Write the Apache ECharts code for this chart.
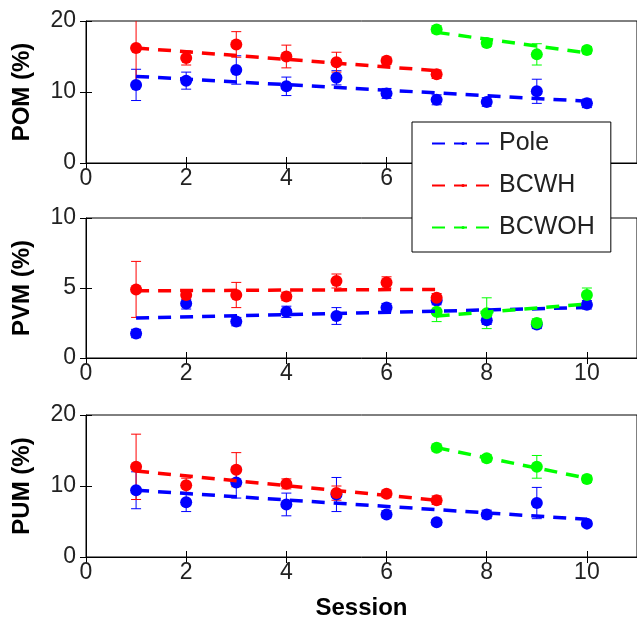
<!DOCTYPE html>
<html>
<head>
<meta charset="utf-8">
<script src="https://cdn.jsdelivr.net/npm/echarts@6/dist/echarts.min.js"></script>
<style>
  html, body { margin: 0; padding: 0; background: #fff; }
  #chart { width: 637px; height: 621px; }
</style>
</head>
<body>
<div id="chart"></div>
<script>
// sessions
var sessions = [1, 2, 3, 4, 5, 6, 7, 8, 9, 10];
var bcwhSessions = [1, 2, 3, 4, 5, 6, 7];
var bcwohSessions = [7, 8, 9, 10];

// POM (%)
var pomPole = [11.0, 11.6, 13.1, 10.8, 12.0, 9.8, 8.9, 8.6, 10.1, 8.4];
var pomPoleErr = [2.2, 1.2, 2.0, 1.3, 1.0, 0.7, 0.7, 0.6, 1.7, 0.6];
var pomBcwh = [16.2, 14.8, 16.7, 15.0, 14.2, 14.4, 12.5];
var pomBcwhErr = [5.0, 1.0, 1.8, 1.6, 1.4, 0.5, 0.6];
var pomBcwoh = [18.8, 16.9, 15.3, 15.9];
var pomBcwohErr = [0.5, 0.5, 1.5, 0.5];
var pomTrend = { pole: [12.2, 8.7], bcwh: [16.2, 13.0], bcwoh: [18.4, 15.5] };

// PVM (%)
var pvmPole = [1.75, 3.9, 2.6, 3.3, 3.0, 3.6, 4.1, 2.7, 2.4, 3.8];
var pvmPoleErr = [0.3, 0.4, 0.3, 0.4, 0.6, 0.3, 0.3, 0.3, 0.3, 0.3];
var pvmBcwh = [4.9, 4.5, 4.5, 4.4, 5.5, 5.4, 4.3];
var pvmBcwhErr = [2.0, 0.3, 0.9, 0.3, 0.5, 0.4, 0.3];
var pvmBcwoh = [3.3, 3.2, 2.5, 4.5];
var pvmBcwohErr = [0.7, 1.1, 0.3, 0.5];
var pvmTrend = { pole: [2.85, 3.6], bcwh: [4.8, 4.9], bcwoh: [3.0, 3.85] };

// PUM (%)
var pumPole = [9.4, 7.7, 10.5, 7.4, 8.8, 6.0, 4.9, 6.0, 7.6, 4.7];
var pumPoleErr = [2.6, 1.3, 2.2, 1.6, 2.4, 0.5, 0.4, 0.6, 2.2, 0.4];
var pumBcwh = [12.7, 10.1, 12.3, 10.3, 9.0, 8.9, 8.0];
var pumBcwhErr = [4.6, 1.0, 2.4, 0.7, 1.0, 0.5, 0.6];
var pumBcwoh = [15.4, 13.9, 12.7, 11.0];
var pumBcwohErr = [0.5, 0.5, 1.6, 0.5];
var pumTrend = { pole: [9.4, 5.3], bcwh: [12.1, 8.0], bcwoh: [15.4, 11.1] };

var panelNames = ["POM (%)", "PVM (%)", "PUM (%)"];
var yMax = [20, 10, 20];
var yStep = [10, 5, 10];

var colors = { pole: "#0000FF", bcwh: "#FF0000", bcwoh: "#00FF00" };
var FONT = "Liberation Sans";

var chart = echarts.init(document.getElementById("chart"));

// error bar: vertical line with small caps
function errRender(params, api) {
  var x = api.value(0);
  var lo = api.coord([x, api.value(1)]);
  var hi = api.coord([x, api.value(2)]);
  var w = 5;
  var st = { stroke: api.visual("color"), lineWidth: 1 };
  return {
    type: "group",
    children: [
      { type: "line", shape: { x1: lo[0], y1: lo[1], x2: hi[0], y2: hi[1] }, style: st },
      { type: "line", shape: { x1: lo[0] - w, y1: lo[1], x2: lo[0] + w, y2: lo[1] }, style: st },
      { type: "line", shape: { x1: hi[0] - w, y1: hi[1], x2: hi[0] + w, y2: hi[1] }, style: st },
    ],
  };
}

function groupSeries(idx, name, color, xs, means, errs, trend) {
  var errData = xs.map(function (x, i) {
    return [x, means[i] - errs[i], means[i] + errs[i]];
  });
  var pts = xs.map(function (x, i) { return [x, means[i]]; });
  return [
    {
      name: name + " err", type: "custom", xAxisIndex: idx, yAxisIndex: idx,
      renderItem: errRender, data: errData, itemStyle: { color: color },
      clip: true, silent: true, z: 2,
    },
    {
      name: name + " pts", type: "scatter", xAxisIndex: idx, yAxisIndex: idx,
      data: pts, symbol: "circle", symbolSize: 12,
      itemStyle: { color: color, opacity: 1 }, silent: true, z: 3,
    },
    {
      name: name, type: "line", xAxisIndex: idx, yAxisIndex: idx,
      data: [[xs[0], trend[0]], [xs[xs.length - 1], trend[1]]],
      symbol: "none", silent: true, z: 4,
      lineStyle: { color: color, width: 3.5, type: [13, 9] },
      itemStyle: { color: color },
    },
  ];
}

var gridTops = [21, 218, 415];
var gridHeights = [142, 140, 142];

var grids = [], xAxes = [], yAxes = [], series = [];
var panels = [
  [pomPole, pomPoleErr, pomBcwh, pomBcwhErr, pomBcwoh, pomBcwohErr, pomTrend],
  [pvmPole, pvmPoleErr, pvmBcwh, pvmBcwhErr, pvmBcwoh, pvmBcwohErr, pvmTrend],
  [pumPole, pumPoleErr, pumBcwh, pumBcwhErr, pumBcwoh, pumBcwohErr, pumTrend],
];

for (var i = 0; i < 3; i++) {
  grids.push({
    left: 86, width: 556, top: gridTops[i], height: gridHeights[i],
    show: true, borderColor: "#000", borderWidth: 1, backgroundColor: "#fff",
  });
}

var labelStyle = { color: "#222", fontFamily: FONT, fontSize: 23 };

// bottom x axes
for (var i = 0; i < 3; i++) {
  xAxes.push({
    type: "value", gridIndex: i, min: 0, max: 11, interval: 2, position: "bottom",
    axisLine: { show: true, lineStyle: { color: "#000", width: 1 } },
    axisTick: { show: true, inside: true, length: 6, lineStyle: { color: "#000" } },
    axisLabel: Object.assign({ margin: 4, showMaxLabel: false }, labelStyle),
    splitLine: { show: false },
    name: i === 2 ? "Session" : "",
    nameLocation: "middle", nameGap: 39,
    nameTextStyle: { color: "#000", fontFamily: FONT, fontSize: 24, fontWeight: "bold" },
  });
}
// top x axes (mirrored ticks)
for (var i = 0; i < 3; i++) {
  xAxes.push({
    type: "value", gridIndex: i, min: 0, max: 11, interval: 2, position: "top",
    axisLine: { show: false },
    axisTick: { show: true, inside: true, length: 6, lineStyle: { color: "#000" } },
    axisLabel: { show: false }, splitLine: { show: false },
  });
}
// left y axes
for (var i = 0; i < 3; i++) {
  yAxes.push({
    type: "value", gridIndex: i, min: 0, max: yMax[i], interval: yStep[i], position: "left",
    axisLine: { show: true, lineStyle: { color: "#000", width: 1 } },
    axisTick: { show: true, inside: true, length: 6, lineStyle: { color: "#000" } },
    axisLabel: Object.assign({ margin: 10 }, labelStyle),
    splitLine: { show: false },
    name: panelNames[i], nameLocation: "middle", nameGap: 52, nameRotate: 90,
    nameTextStyle: { color: "#000", fontFamily: FONT, fontSize: 24, fontWeight: "bold" },
  });
}
// right y axes (mirrored ticks)
for (var i = 0; i < 3; i++) {
  yAxes.push({
    type: "value", gridIndex: i, min: 0, max: yMax[i], interval: yStep[i], position: "right",
    axisLine: { show: false },
    axisTick: { show: true, inside: true, length: 6, lineStyle: { color: "#000" } },
    axisLabel: { show: false }, splitLine: { show: false },
  });
}

for (var i = 0; i < 3; i++) {
  var p = panels[i];
  series = series.concat(
    groupSeries(i, "Pole", colors.pole, sessions, p[0], p[1], p[6].pole),
    groupSeries(i, "BCWH", colors.bcwh, bcwhSessions, p[2], p[3], p[6].bcwh),
    groupSeries(i, "BCWOH", colors.bcwoh, bcwohSessions, p[4], p[5], p[6].bcwoh)
  );
}

chart.setOption({
  animation: false,
  backgroundColor: "#fff",
  grid: grids,
  xAxis: xAxes,
  yAxis: yAxes,
  legend: {
    data: ["Pole", "BCWH", "BCWOH"],
    orient: "vertical",
    left: 412, top: 122,
    itemWidth: 62, itemHeight: 4, itemGap: 17,
    padding: [9, 16, 12, 19],
    backgroundColor: "#fff", borderColor: "#000", borderWidth: 1,
    selectedMode: false,
    textStyle: { color: "#222", fontFamily: FONT, fontSize: 25 },
  },
  series: series,
});
</script>
</body>
</html>
